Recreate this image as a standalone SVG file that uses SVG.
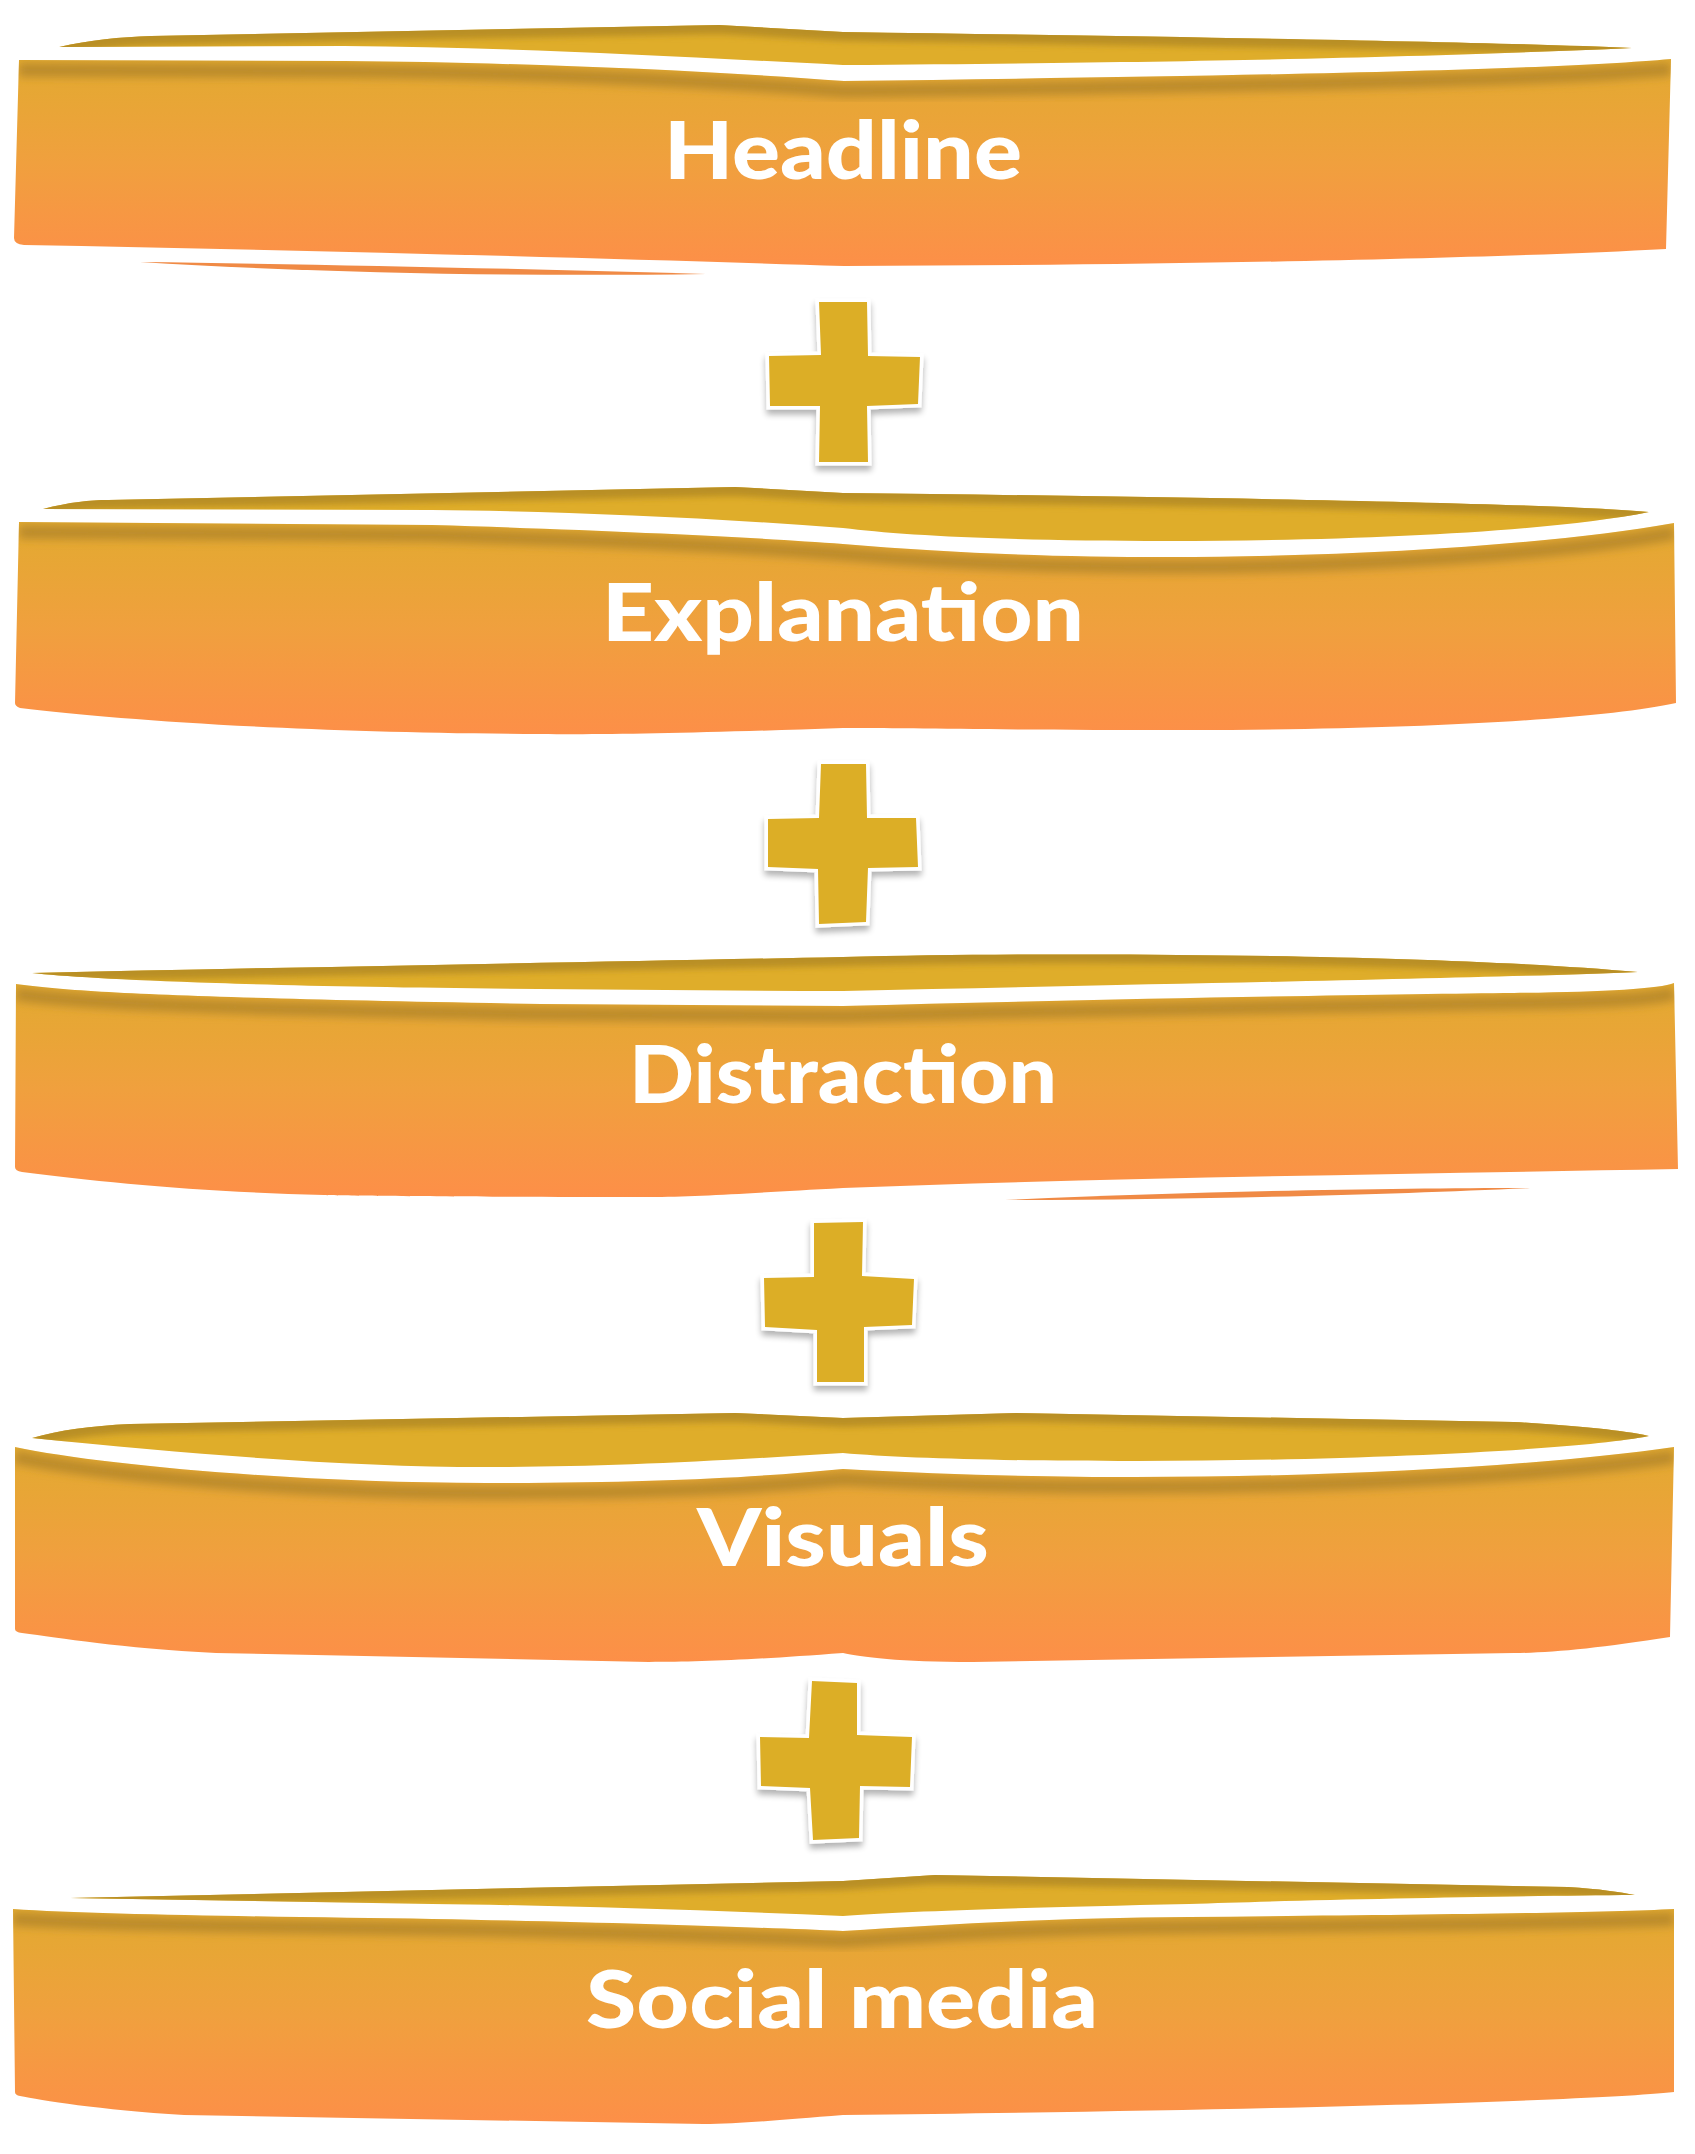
<svg xmlns="http://www.w3.org/2000/svg" width="1695" height="2154" viewBox="0 0 1695 2154">
<style>
.body{fill:url(#gBody)}
.cap{fill:#DFAD2A}
.shade{fill:none;stroke:#B5862A;stroke-width:14;stroke-opacity:0.85;filter:url(#blur4)}
.capshade{fill:none;stroke:#B58C22;stroke-width:18;stroke-opacity:0.9;filter:url(#blur3)}
.sliver{fill:#F08A45}
.lbl{font-family:"Lato","Liberation Sans",sans-serif;font-weight:900;font-size:80px;fill:#FFFFFF;text-anchor:middle}
.plus{fill:#DCAE27;stroke:#FFFFFF;stroke-width:7;stroke-linejoin:miter;paint-order:stroke;filter:url(#plusShadow)}
</style>
<defs>
<linearGradient id="gBody" x1="0" y1="0" x2="0" y2="1">
<stop offset="0" stop-color="#E2AA30"/>
<stop offset="0.5" stop-color="#F0A03E"/>
<stop offset="1" stop-color="#FD8F48"/>
</linearGradient>
<filter id="blur4" x="-5%" y="-50%" width="110%" height="200%"><feGaussianBlur stdDeviation="4"/></filter>
<filter id="blur3" x="-5%" y="-50%" width="110%" height="200%"><feGaussianBlur stdDeviation="3"/></filter>
<filter id="plusShadow" x="-20%" y="-20%" width="140%" height="150%">
<feGaussianBlur in="SourceAlpha" stdDeviation="3"/>
<feOffset dx="0" dy="5" result="b"/>
<feComponentTransfer><feFuncA type="linear" slope="0.3"/></feComponentTransfer>
<feMerge><feMergeNode/><feMergeNode in="SourceGraphic"/></feMerge>
</filter>
<path id="T1" d="M19,60 L344,61 C500,62 700,70 844,81 C1250,76 1550,70 1671,59"/>
<path id="B1" d="M19,60 L344,61 C500,62 700,70 844,81 C1250,76 1550,70 1671,59 L1666,249 C1500,258 1200,265 844,266 C600,258 300,250 24,245 Q14,244 14,238 Z"/>
<path id="CT1" d="M59,47 C90,40 120,37 151,36 L719,25 L843,32 C1200,37 1500,42 1632,48"/>
<path id="C1" d="M59,47 C90,40 120,37 151,36 L719,25 L843,32 C1200,37 1500,42 1632,48 C1450,56 1250,62 843,65 C650,55 500,47 344,46 L59,47 Z"/>
<path id="T2" d="M19,522 L432,525 C600,530 750,537 843,544 C950,553 1050,557 1168,557 C1350,557 1550,545 1674,523"/>
<path id="B2" d="M19,522 L432,525 C600,530 750,537 843,544 C950,553 1050,557 1168,557 C1350,557 1550,545 1674,523 L1676,703 C1600,720 1400,730 1189,730 C1000,730 900,728 843,728 C700,733 600,735 541,734 C300,733 120,720 20,708 Q15,706 15,703 Z"/>
<path id="CT2" d="M43,509 C70,502 90,500 108,500 L735,487 L843,493 C1200,497 1550,503 1649,512"/>
<path id="C2" d="M43,509 C70,502 90,500 108,500 L735,487 L843,493 C1200,497 1550,503 1649,512 C1550,532 1350,541 1168,541 C1000,541 900,535 843,528 C700,517 550,511 432,510 L43,509 Z"/>
<path id="T3" d="M16,984 C80,993 200,998 541,1004 L843,1006 C1100,999 1400,994 1514,993 C1600,992 1660,989 1674,983"/>
<path id="B3" d="M16,984 C80,993 200,998 541,1004 L843,1006 C1100,999 1400,994 1514,993 C1600,992 1660,989 1674,983 L1678,1169 C1400,1174 1100,1178 843,1188 C750,1193 700,1197 649,1197 C500,1197 350,1196 324,1195 C200,1192 100,1182 22,1172 Q15,1171 15,1167 Z"/>
<path id="CT3" d="M32,973 C300,967 600,962 843,957 C1100,951 1450,955 1638,972"/>
<path id="C3" d="M32,973 C300,967 600,962 843,957 C1100,951 1450,955 1638,972 C1500,978 1200,983 843,991 C600,990 350,988 216,983 C120,980 60,976 32,973 Z"/>
<path id="T4" d="M15,1447 C100,1465 300,1483 486,1483 C650,1483 750,1478 843,1469 C950,1475 1050,1477 1135,1477 C1350,1477 1550,1465 1674,1447"/>
<path id="B4" d="M15,1447 C100,1465 300,1483 486,1483 C650,1483 750,1478 843,1469 C950,1475 1050,1477 1135,1477 C1350,1477 1550,1465 1674,1447 L1670,1637 C1600,1648 1550,1653 1514,1653 L973,1662 C900,1662 860,1657 843,1653 C750,1660 700,1662 649,1662 L216,1653 C120,1648 60,1638 22,1633 Q15,1632 15,1629 Z"/>
<path id="CT4" d="M32,1438 C60,1430 90,1426 130,1424 L735,1413 L843,1418 L1016,1413 L1514,1422 C1580,1426 1620,1430 1649,1436"/>
<path id="C4" d="M32,1438 C60,1430 90,1426 130,1424 L735,1413 L843,1418 L1016,1413 L1514,1422 C1580,1426 1620,1430 1649,1436 C1580,1450 1350,1461 1135,1461 C1000,1461 900,1458 843,1453 C700,1462 600,1467 486,1467 C350,1467 200,1455 32,1438 Z"/>
<path id="T5" d="M13,1909 C100,1915 300,1917 432,1919 C600,1922 750,1927 843,1931 C950,1924 1050,1918 1189,1917 C1400,1915 1600,1913 1674,1909"/>
<path id="B5" d="M13,1909 C100,1915 300,1917 432,1919 C600,1922 750,1927 843,1931 C950,1924 1050,1918 1189,1917 C1400,1915 1600,1913 1674,1909 L1674,2092 C1600,2100 1300,2110 843,2115 C780,2120 740,2124 703,2124 L184,2115 C100,2110 40,2100 20,2096 Q15,2095 15,2092 Z"/>
<path id="CT5" d="M70,1898 L843,1881 L935,1875 L1568,1887 C1600,1889 1620,1892 1635,1895"/>
<path id="C5" d="M70,1898 L843,1881 L935,1875 L1568,1887 C1600,1889 1620,1892 1635,1895 C1500,1896 1300,1900 1189,1904 C1000,1908 900,1912 843,1916 C700,1910 550,1905 432,1904 L70,1898 Z"/>
<clipPath id="cb1"><use href="#B1"/></clipPath>
<clipPath id="cc1"><use href="#C1"/></clipPath>
<clipPath id="cb2"><use href="#B2"/></clipPath>
<clipPath id="cc2"><use href="#C2"/></clipPath>
<clipPath id="cb3"><use href="#B3"/></clipPath>
<clipPath id="cc3"><use href="#C3"/></clipPath>
<clipPath id="cb4"><use href="#B4"/></clipPath>
<clipPath id="cc4"><use href="#C4"/></clipPath>
<clipPath id="cb5"><use href="#B5"/></clipPath>
<clipPath id="cc5"><use href="#C5"/></clipPath>
</defs>
<rect width="1695" height="2154" fill="#FFFFFF"/>

<g id="node-headline">
<use href="#C1" class="cap"/>
<g clip-path="url(#cc1)"><use href="#CT1" class="capshade"/></g>
<use href="#B1" class="body"/>
<g clip-path="url(#cb1)"><use href="#T1" class="shade" transform="translate(0,10)"/></g>
<path class="sliver" d="M140,262 C300,264 500,268 706,274 C500,277 300,272 140,262 Z"/>
<text class="lbl" x="843" y="179" textLength="358" lengthAdjust="spacingAndGlyphs">Headline</text>
</g>

<g id="node-explanation">
<use href="#C2" class="cap"/>
<g clip-path="url(#cc2)"><use href="#CT2" class="capshade"/></g>
<use href="#B2" class="body"/>
<g clip-path="url(#cb2)"><use href="#T2" class="shade" transform="translate(0,10)"/></g>
<text class="lbl" x="843" y="641" textLength="482" lengthAdjust="spacingAndGlyphs">Explanation</text>
</g>

<g id="node-distraction">
<use href="#C3" class="cap"/>
<g clip-path="url(#cc3)"><use href="#CT3" class="capshade"/></g>
<use href="#B3" class="body"/>
<g clip-path="url(#cb3)"><use href="#T3" class="shade" transform="translate(0,10)"/></g>
<path class="sliver" d="M1005,1200 C1200,1191 1400,1188 1530,1188 C1400,1194 1200,1200 1005,1200 Z"/>
<text class="lbl" x="843" y="1103" textLength="428" lengthAdjust="spacingAndGlyphs">Distraction</text>
</g>

<g id="node-visuals">
<use href="#C4" class="cap"/>
<g clip-path="url(#cc4)"><use href="#CT4" class="capshade"/></g>
<use href="#B4" class="body"/>
<g clip-path="url(#cb4)"><use href="#T4" class="shade" transform="translate(0,10)"/></g>
<text class="lbl" x="843" y="1566" textLength="292" lengthAdjust="spacingAndGlyphs">Visuals</text>
</g>

<g id="node-social-media">
<use href="#C5" class="cap"/>
<g clip-path="url(#cc5)"><use href="#CT5" class="capshade"/></g>
<use href="#B5" class="body"/>
<g clip-path="url(#cb5)"><use href="#T5" class="shade" transform="translate(0,10)"/></g>
<text class="lbl" x="842" y="2028" textLength="512" lengthAdjust="spacingAndGlyphs">Social media</text>
</g>

<g id="connectors">
<polygon class="plus" points="819,302 867,302 868,356 920,357 918,404 867,406 868,462 819,462 820,406 770,406 769,356 821,355"/>
<polygon class="plus" points="821,764 866,764 867,818 916,818 918,867 868,868 866,922 819,924 818,869 768,867 768,819 819,818"/>
<polygon class="plus" points="814,1223 863,1222 862,1276 914,1279 912,1325 864,1327 864,1382 817,1382 817,1330 765,1327 764,1278 814,1277"/>
<polygon class="plus" points="812,1681 857,1683 857,1735 912,1737 910,1787 860,1786 859,1838 813,1840 810,1788 761,1786 760,1737 809,1738"/>
</g>
</svg>
